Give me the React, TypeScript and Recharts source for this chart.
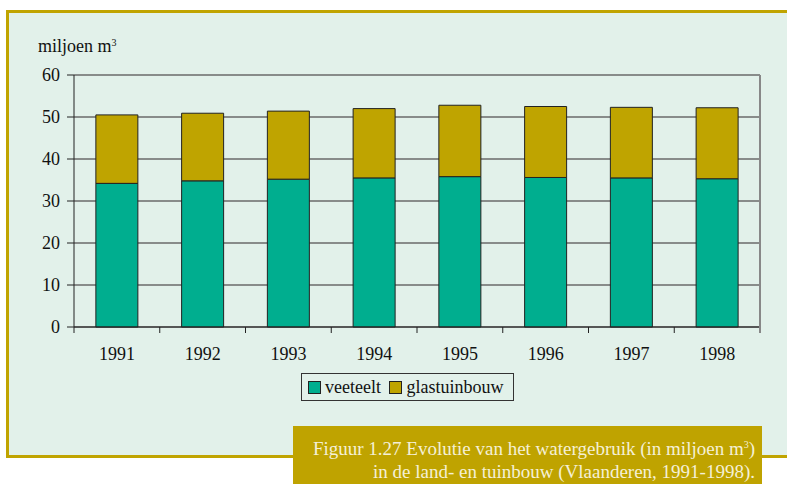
import { BarChart, Bar, XAxis, YAxis, CartesianGrid } from "recharts";

const years = ["1991", "1992", "1993", "1994", "1995", "1996", "1997", "1998"];
const veeteelt = [34.2, 34.8, 35.2, 35.5, 35.8, 35.6, 35.5, 35.3];
const glastuinbouw = [16.3, 16.1, 16.2, 16.5, 17.0, 16.9, 16.8, 16.9];
const yTicks = [0, 10, 20, 30, 40, 50, 60];

const TEAL = "#00AE8F";
const GOLD = "#BFA400";
const FONT = "'Liberation Serif', 'Times New Roman', serif";

const data = years.map((year, i) => ({
  year,
  veeteelt: veeteelt[i],
  glastuinbouw: glastuinbouw[i],
}));

// category label plus Excel-style tick marks on the band edges
function YearTick(props: any) {
  const { x, y, payload, width, visibleTicksCount, index } = props;
  const half = width / visibleTicksCount / 2;
  return (
    <g>
      <line x1={x - half} x2={x - half} y1={y} y2={y + 6} stroke="#222" />
      {index === visibleTicksCount - 1 && (
        <line x1={x + half} x2={x + half} y1={y} y2={y + 6} stroke="#888" strokeWidth={2} />
      )}
      <text x={x} y={y + 33} textAnchor="middle" fontSize={18} fill="#111" fontFamily={FONT}>
        {payload.value}
      </text>
    </g>
  );
}

function Swatch({ color }: { color: string }) {
  return (
    <span
      style={{
        display: "inline-block",
        width: 11,
        height: 11,
        background: color,
        border: "1px solid #222",
        marginRight: 4,
        verticalAlign: "-1px",
      }}
    />
  );
}

export default function App() {
  return (
    <div style={{ position: "absolute", left: 0, top: 0, width: 787, height: 484, overflow: "hidden", background: "#fff", fontFamily: FONT }}>
      <div
        style={{
          position: "absolute",
          left: 6,
          top: 10,
          width: 820,
          height: 442,
          background: "#E2F1EA",
          border: "3px solid #C0A400",
        }}
      />
      <div style={{ position: "absolute", left: 38, top: 36, fontSize: 18, color: "#111" }}>
        miljoen m<span style={{ fontSize: 10, verticalAlign: "6px" }}>3</span>
      </div>
      <div style={{ position: "absolute", left: 0, top: 0 }}>
        <BarChart
          width={787}
          height={484}
          data={data}
          margin={{ top: 75, right: 26, left: 0, bottom: 117 }}
          barCategoryGap="25.5%"
        >
          <CartesianGrid horizontal vertical={false} stroke="#6a6a6a" strokeWidth={1.3} />
          <XAxis
            dataKey="year"
            height={40}
            axisLine={{ stroke: "#222" }}
            tickLine={false}
            tickSize={0}
            tickMargin={0}
            tick={<YearTick />}
            interval={0}
          />
          <XAxis xAxisId="top" dataKey="year" orientation="top" height={0} tick={false} tickLine={false} axisLine={{ stroke: "#222", strokeWidth: 2 }} />
          <YAxis
            domain={[0, 60]}
            ticks={yTicks}
            width={74}
            axisLine={{ stroke: "#222" }}
            tickLine={{ stroke: "#222" }}
            tickSize={7}
            tickMargin={7}
            tick={{ fontSize: 18, fill: "#111", fontFamily: FONT }}
          />
          <YAxis
            yAxisId="right"
            orientation="right"
            domain={[0, 60]}
            ticks={yTicks}
            width={1}
            tick={false}
            tickLine={false}
            axisLine={{ stroke: "#888", strokeWidth: 2 }}
          />
          <Bar dataKey="veeteelt" stackId="a" fill={TEAL} stroke="#222" strokeWidth={1} isAnimationActive={false} />
          <Bar dataKey="glastuinbouw" stackId="a" fill={GOLD} stroke="#222" strokeWidth={1} isAnimationActive={false} />
        </BarChart>
      </div>
      <div
        style={{
          position: "absolute",
          left: 301,
          top: 373,
          width: 213,
          height: 28,
          boxSizing: "border-box",
          border: "1px solid #333",
          fontSize: 18,
          color: "#111",
          lineHeight: "26px",
          paddingLeft: 6,
          whiteSpace: "nowrap",
        }}
      >
        <Swatch color={TEAL} />veeteelt <span style={{ marginLeft: 4 }} />
        <Swatch color={GOLD} />glastuinbouw
      </div>
      <div
        style={{
          position: "absolute",
          left: 293,
          top: 426,
          width: 469,
          height: 70,
          background: "#BFA300",
          color: "#F5F0D6",
          fontSize: 19,
          lineHeight: "23px",
          textAlign: "right",
          boxSizing: "border-box",
          padding: "7px 7px 0 0",
          whiteSpace: "nowrap",
        }}
      >
        Figuur 1.27 Evolutie van het watergebruik (in miljoen m<span style={{ fontSize: 10, verticalAlign: "7px" }}>3</span>)
        <br />
        in de land- en tuinbouw (Vlaanderen, 1991-1998).
      </div>
    </div>
  );
}
